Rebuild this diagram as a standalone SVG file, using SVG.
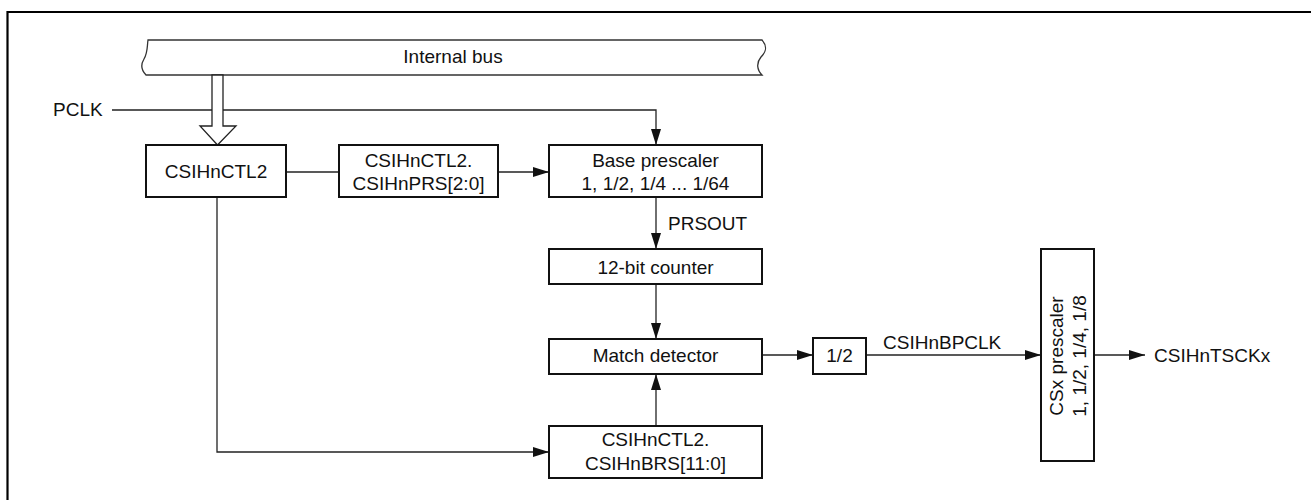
<svg xmlns="http://www.w3.org/2000/svg" width="1311" height="500" viewBox="0 0 1311 500">
<style>
text{font-family:"Liberation Sans",Arial,sans-serif;font-size:19px;fill:#111}
.c{text-anchor:middle}
.box{fill:#fff;stroke:#111;stroke-width:2}
.ln{fill:none;stroke:#222;stroke-width:1.3}
</style>
<defs>
<marker id="ah" markerUnits="userSpaceOnUse" markerWidth="16" markerHeight="10" refX="16" refY="5" orient="auto">
<path d="M0,0 L16,5 L0,10 z" fill="#111"/>
</marker>
</defs>
<rect width="1311" height="500" fill="#fff"/>
<path d="M7.5,500 V12 H1311" fill="none" stroke="#000" stroke-width="2.2"/>

<g id="connectors">
<path class="ln" d="M112,110 H656 V145" marker-end="url(#ah)"/>
<path class="ln" d="M286,172 H339"/>
<path class="ln" d="M498,172 H549" marker-end="url(#ah)"/>
<path class="ln" d="M656,197 V249" marker-end="url(#ah)"/>
<path class="ln" d="M656,284 V339" marker-end="url(#ah)"/>
<path class="ln" d="M656,426 V374" marker-end="url(#ah)"/>
<path class="ln" d="M217,197 V452 H549" marker-end="url(#ah)"/>
<path class="ln" d="M762,355 H813" marker-end="url(#ah)"/>
<path class="ln" d="M866,355 H1041" marker-end="url(#ah)"/>
<path class="ln" d="M1094,355 H1145" marker-end="url(#ah)"/>
</g>

<g id="bus">
<path d="M148,40 H762 C768,47 766,52 761,57 C756,63 757,70 762,75 H146 C141,70 141,64 144,59 C148,52 147,46 148,40 Z" fill="#fff" stroke="#333" stroke-width="1.3"/>
<text class="c" x="453" y="63">Internal bus</text>
</g>
<g id="bus-arrow">
<path d="M212,75 V126 H200 L217.5,145 L236,126 H223 V75 Z" fill="#fff" stroke="#222" stroke-width="1.3"/>
</g>

<g id="pclk"><text x="53" y="116">PCLK</text></g>

<g id="ctl2">
<rect class="box" x="146" y="145" width="140" height="52"/>
<text class="c" x="216" y="178">CSIHnCTL2</text>
</g>
<g id="prs">
<rect class="box" x="339" y="145" width="159" height="52"/>
<text class="c" x="418.5" y="167">CSIHnCTL2.</text>
<text class="c" x="418.5" y="190">CSIHnPRS[2:0]</text>
</g>
<g id="base">
<rect class="box" x="549" y="145" width="213" height="52"/>
<text class="c" x="655.5" y="167">Base prescaler</text>
<text class="c" x="655.5" y="190">1, 1/2, 1/4 ... 1/64</text>
</g>
<g id="prsout"><text x="668" y="230">PRSOUT</text></g>
<g id="counter">
<rect class="box" x="549" y="249" width="213" height="35"/>
<text class="c" x="655.5" y="274">12-bit counter</text>
</g>
<g id="match">
<rect class="box" x="549" y="339" width="213" height="35"/>
<text class="c" x="655.5" y="362">Match detector</text>
</g>
<g id="brs">
<rect class="box" x="549" y="426" width="213" height="52"/>
<text class="c" x="655.5" y="446">CSIHnCTL2.</text>
<text class="c" x="655.5" y="470">CSIHnBRS[11:0]</text>
</g>
<g id="half">
<rect class="box" x="813" y="338" width="53" height="36"/>
<text class="c" x="839.5" y="362">1/2</text>
</g>
<g id="bpclk"><text x="883" y="349">CSIHnBPCLK</text></g>
<g id="csx">
<rect class="box" x="1041" y="249" width="53" height="212"/>
<text class="c" transform="translate(1063,356) rotate(-90)">CSx prescaler</text>
<text class="c" transform="translate(1086,356) rotate(-90)">1, 1/2, 1/4, 1/8</text>
</g>
<g id="tsck"><text x="1154" y="362">CSIHnTSCKx</text></g>
</svg>
